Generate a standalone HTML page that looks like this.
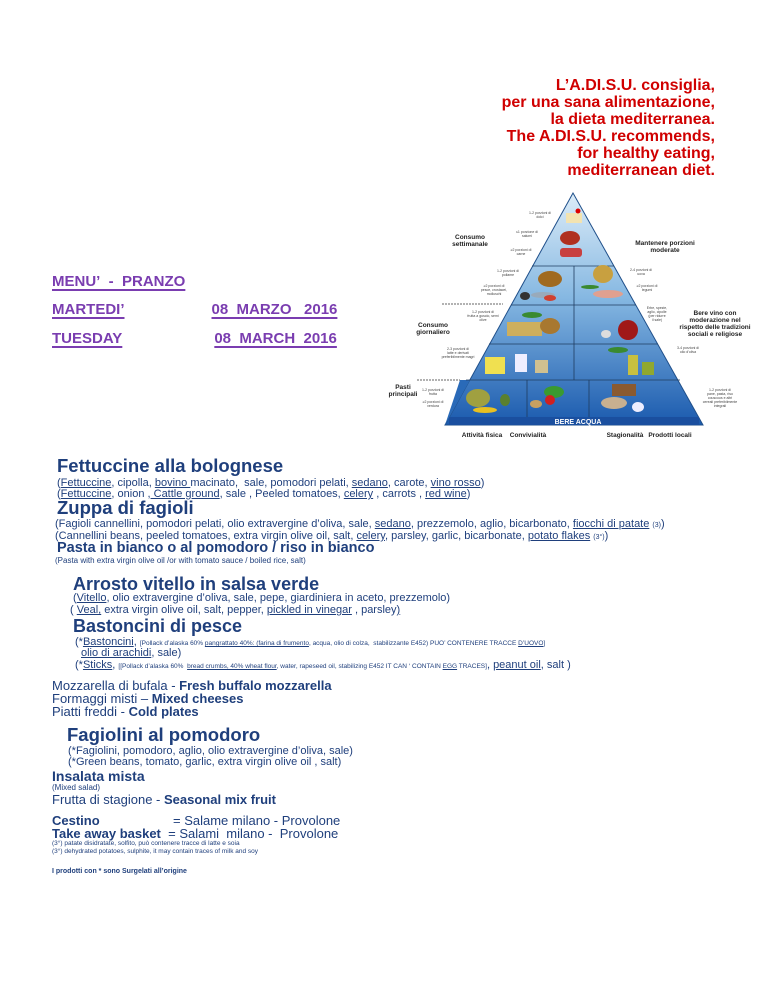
<!DOCTYPE html>
<html><head><meta charset="utf-8">
<style>
html,body{margin:0;padding:0;background:#fff;}
body{width:768px;height:994px;position:relative;overflow:hidden;font-family:"Liberation Sans",Arial,sans-serif;color:#1f3f7c;}
.a{position:absolute;white-space:nowrap;}
.red{color:#d00000;font-weight:bold;font-size:16px;line-height:17px;text-align:right;right:53px;top:77px;}
.pu{color:#7a3db0;font-weight:bold;font-size:15px;text-decoration:underline;text-decoration-thickness:2px;text-underline-offset:3px;line-height:18px;}
.h1{font-weight:bold;font-size:18.5px;line-height:20px;}
.ing{font-size:11px;line-height:12px;}
.sm{font-size:7px;}
.xs{font-size:8px;line-height:10px;}
.u{text-decoration:underline;}
.b{font-weight:bold;}
.m{font-size:13px;line-height:13px;}
</style></head><body>

<div class="a red">L’A.DI.S.U. consiglia,<br>per una sana alimentazione,<br>la dieta mediterranea.<br>The A.DI.S.U. recommends,<br>for healthy eating,<br>mediterranean diet.</div>

<div class="a pu" style="left:52px;top:273px;">MENU’&nbsp; -&nbsp; PRANZO</div>
<div class="a pu" style="left:52px;top:301px;">MARTEDI’<span style="display:inline-block;width:87px"></span>08&nbsp; MARZO&nbsp;&nbsp; 2016</div>
<div class="a pu" style="left:52px;top:330px;">TUESDAY<span style="display:inline-block;width:92px"></span>08&nbsp; MARCH&nbsp; 2016</div>

<!-- Pyramid -->
<svg class="a" style="left:380px;top:190px;" width="380" height="255" viewBox="380 190 380 255">
<defs>
<linearGradient id="g" x1="0" y1="0" x2="0" y2="1">
<stop offset="0" stop-color="#dcecf8"/><stop offset="0.45" stop-color="#86b8e2"/><stop offset="1" stop-color="#1a5aae"/>
</linearGradient>
</defs>
<polygon points="573,193 445,425 703,425" fill="url(#g)" stroke="#1f4f8a" stroke-width="1"/>
<polygon points="460,380 445,425 470,380" fill="#2a6ab8"/>
<g stroke="#1f3c60" stroke-width="0.8">
<line x1="532" y1="266" x2="614" y2="266"/>
<line x1="511" y1="305" x2="636" y2="305"/>
<line x1="489" y1="344" x2="658" y2="344"/>
<line x1="466" y1="380" x2="680" y2="380"/>
<line x1="574" y1="266" x2="574" y2="380"/>
<line x1="527" y1="380" x2="527" y2="417"/>
<line x1="589" y1="380" x2="589" y2="417"/>
</g>
<rect x="449" y="417" width="250" height="8" fill="#1a4f9f"/>
<text x="578" y="424" font-size="7" font-weight="bold" fill="#fff" text-anchor="middle" font-family="Liberation Sans">BERE ACQUA</text>
<rect x="566" y="213" width="16" height="10" fill="#f3e3b0"/>
<circle cx="578" cy="211" r="2.5" fill="#d00"/>
<ellipse cx="570" cy="238" rx="10" ry="7" fill="#b03020"/>
<rect x="560" y="248" width="22" height="9" rx="3" fill="#c84040"/>
<ellipse cx="550" cy="279" rx="12" ry="8" fill="#a06a20"/>
<ellipse cx="543" cy="295" rx="12" ry="3" fill="#9ab"/>
<ellipse cx="525" cy="296" rx="5" ry="4" fill="#333"/>
<ellipse cx="550" cy="298" rx="6" ry="3" fill="#d04030"/>
<ellipse cx="603" cy="274" rx="10" ry="9" fill="#c8a040"/>
<ellipse cx="590" cy="287" rx="9" ry="2" fill="#3a8a30"/>
<ellipse cx="608" cy="294" rx="15" ry="4" fill="#e0a090"/>
<ellipse cx="532" cy="315" rx="10" ry="3" fill="#3a8a30"/>
<rect x="507" y="322" width="35" height="14" fill="#d8b050" opacity="0.9"/>
<ellipse cx="550" cy="326" rx="10" ry="8" fill="#a87830"/>
<ellipse cx="628" cy="330" rx="10" ry="10" fill="#a01818"/>
<ellipse cx="606" cy="334" rx="5" ry="4" fill="#ddd"/>
<rect x="485" y="357" width="20" height="17" fill="#f0e050"/>
<rect x="515" y="354" width="12" height="18" fill="#eef"/>
<rect x="535" y="360" width="13" height="13" fill="#d0c090"/>
<rect x="628" y="355" width="10" height="20" fill="#c8c040"/>
<rect x="642" y="362" width="12" height="13" fill="#90a830"/>
<ellipse cx="618" cy="350" rx="10" ry="3" fill="#3a8a30"/>
<ellipse cx="478" cy="398" rx="12" ry="9" fill="#a0a040"/>
<ellipse cx="485" cy="410" rx="12" ry="3" fill="#e8c020"/>
<ellipse cx="505" cy="400" rx="5" ry="6" fill="#5a8030"/>
<ellipse cx="554" cy="392" rx="10" ry="6" fill="#3a9a30"/>
<ellipse cx="550" cy="400" rx="5" ry="5" fill="#d02020"/>
<ellipse cx="536" cy="404" rx="6" ry="4" fill="#c8a060"/>
<rect x="612" y="384" width="24" height="12" fill="#8a5a30"/>
<ellipse cx="614" cy="403" rx="13" ry="6" fill="#c8b090"/>
<ellipse cx="638" cy="407" rx="6" ry="5" fill="#eef"/>
<g stroke="#333" stroke-width="0.8" stroke-dasharray="2,1">
<line x1="442" y1="304" x2="503" y2="304"/>
<line x1="417" y1="380" x2="460" y2="380"/>
</g>
<g font-family="Liberation Sans" font-weight="bold" fill="#222" font-size="6.5" text-anchor="middle">
<text x="470" y="239">Consumo</text><text x="470" y="246">settimanale</text>
<text x="433" y="327">Consumo</text><text x="433" y="334">giornaliero</text>
<text x="403" y="389">Pasti</text><text x="403" y="396">principali</text>
<text x="665" y="245">Mantenere porzioni</text><text x="665" y="252">moderate</text>
<text x="715" y="315">Bere vino con</text><text x="715" y="322">moderazione nel</text><text x="715" y="329">rispetto delle tradizioni</text><text x="715" y="336">sociali e religiose</text>
<text x="482" y="437">Attività fisica</text><text x="528" y="437">Convivialità</text>
<text x="625" y="437">Stagionalità</text><text x="670" y="437">Prodotti locali</text>
</g>
<g font-family="Liberation Sans" fill="#444" font-size="3.5" text-anchor="middle">
<text x="540" y="214">1-2 porzioni di</text><text x="540" y="218">dolci</text>
<text x="527" y="233">≤1 porzione di</text><text x="527" y="237">salumi</text>
<text x="521" y="251">≥2 porzioni di</text><text x="521" y="255">carne</text>
<text x="508" y="272">1-2 porzioni di</text><text x="508" y="276">pollame</text>
<text x="494" y="287">≥2 porzioni di</text><text x="494" y="291">pesce, crostacei,</text><text x="494" y="295">molluschi</text>
<text x="483" y="313">1-2 porzioni di</text><text x="483" y="317">frutta a guscio, semi</text><text x="483" y="321">olive</text>
<text x="458" y="350">2-3 porzioni di</text><text x="458" y="354">latte e derivati</text><text x="458" y="358">preferibilmente magri</text>
<text x="433" y="391">1-2 porzioni di</text><text x="433" y="395">frutta</text>
<text x="433" y="403">≥2 porzioni di</text><text x="433" y="407">verdura</text>
<text x="641" y="271">2-4 porzioni di</text><text x="641" y="275">uova</text>
<text x="647" y="287">≥2 porzioni di</text><text x="647" y="291">legumi</text>
<text x="657" y="309">Erbe, spezie,</text><text x="657" y="313">aglio, cipolle</text><text x="657" y="317">(per ridurre</text><text x="657" y="321">il sale)</text>
<text x="688" y="349">3-4 porzioni di</text><text x="688" y="353">olio d'oliva</text>
<text x="720" y="391">1-2 porzioni di</text><text x="720" y="395">pane, pasta, riso</text><text x="720" y="399">couscous e altri</text><text x="720" y="403">cereali preferibilmente</text><text x="720" y="407">integrali</text>
</g>
</svg>

<div class="a h1" style="left:57px;top:456px;">Fettuccine alla bolognese</div>
<div class="a ing" style="left:57px;top:477px;">(<span class="u">Fettuccine</span>, cipolla, <span class="u">bovino </span>macinato,&nbsp; sale, pomodori pelati, <span class="u">sedano</span>, carote, <span class="u">vino rosso</span>)</div>
<div class="a ing" style="left:57px;top:488px;">(<span class="u">Fettuccine</span>, onion ,<span class="u"> Cattle ground</span>, sale , Peeled tomatoes, <span class="u">celery</span> , carrots , <span class="u">red wine</span>)</div>
<div class="a h1" style="left:57px;top:498px;">Zuppa di fagioli</div>
<div class="a ing" style="left:55px;top:518px;">(Fagioli cannellini, pomodori pelati, olio extravergine d’oliva, sale, <span class="u">sedano</span>, prezzemolo, aglio, bicarbonato, <span class="u">fiocchi di patate</span> <span class="sm">(3)</span>)</div>
<div class="a ing" style="left:55px;top:530px;">(Cannellini beans, peeled tomatoes, extra virgin olive oil, salt, <span class="u">celery</span>, parsley, garlic, bicarbonate, <span class="u">potato flakes</span> <span class="sm">(3°)</span>)</div>
<div class="a b" style="left:57px;top:540px;font-size:14.5px;line-height:16px;">Pasta in bianco o al pomodoro / riso in bianco</div>
<div class="a xs" style="left:55px;top:556px;">(Pasta with extra virgin olive oil /or with tomato sauce / boiled rice, salt)</div>

<div class="a h1" style="left:73px;top:574px;font-size:18px;">Arrosto vitello in salsa verde</div>
<div class="a ing" style="left:73px;top:592px;">(<span class="u">Vitello</span>, olio extravergine d’oliva, sale, pepe, giardiniera in aceto, prezzemolo)</div>
<div class="a ing" style="left:70px;top:604px;">( <span class="u">Veal,</span> extra virgin olive oil, salt, pepper, <span class="u">pickled in vinegar</span> , parsley<span class="u">)</span></div>
<div class="a h1" style="left:73px;top:616px;font-size:18px;">Bastoncini di pesce</div>
<div class="a ing" style="left:75px;top:636px;">(*<span class="u">Bastoncini</span>, <span style="font-size:6.5px">[Pollack d’alaska 60% <span class="u">pangrattato 40%: (farina di frumento</span>, acqua, olio di colza,&nbsp; stabilizzante E452) PUO’ CONTENERE TRACCE <span class="u">D’UOVO</span>]</span></div>
<div class="a ing" style="left:81px;top:647px;"><span class="u">olio di arachidi</span>, sale)</div>
<div class="a ing" style="left:75px;top:659px;">(*<span class="u">Sticks</span>, <span style="font-size:6.5px">[[Pollack d’alaska 60%&nbsp; <span class="u">bread crumbs, 40% wheat flour</span>, water, rapeseed oil, stabilizing E452 IT CAN ‘ CONTAIN <span class="u">EGG</span> TRACES]</span>, <span class="u">peanut oil</span>, salt )</div>

<div class="a m" style="left:52px;top:679px;">Mozzarella di bufala - <b>Fresh buffalo mozzarella</b></div>
<div class="a m" style="left:52px;top:692px;">Formaggi misti – <b>Mixed cheeses</b></div>
<div class="a m" style="left:52px;top:705px;">Piatti freddi - <b>Cold plates</b></div>
<div class="a h1" style="left:67px;top:725px;">Fagiolini al pomodoro</div>
<div class="a ing" style="left:68px;top:745px;">(*Fagiolini, pomodoro, aglio, olio extravergine d’oliva, sale)</div>
<div class="a ing" style="left:68px;top:756px;">(*Green beans, tomato, garlic, extra virgin olive oil , salt)</div>
<div class="a b" style="left:52px;top:768px;font-size:14px;line-height:16px;">Insalata mista</div>
<div class="a xs" style="left:52px;top:783px;">(Mixed salad)</div>
<div class="a m" style="left:52px;top:793px;">Frutta di stagione - <b>Seasonal mix fruit</b></div>
<div class="a m" style="left:52px;top:814px;"><b>Cestino</b><span style="position:absolute;left:121px;">= Salame milano - Provolone</span></div>
<div class="a m" style="left:52px;top:827px;"><b>Take away basket</b>&nbsp; = Salami&nbsp; milano -&nbsp; Provolone</div>
<div class="a" style="left:52px;top:840px;font-size:6.5px;line-height:8px;">(3°) patate disidratate, solfito, può contenere tracce di latte e soia<br>(3°) dehydrated potatoes, sulphite, it may contain traces of milk and soy</div>
<div class="a b" style="left:52px;top:868px;font-size:7px;">I prodotti con * sono Surgelati all’origine</div>

</body></html>
